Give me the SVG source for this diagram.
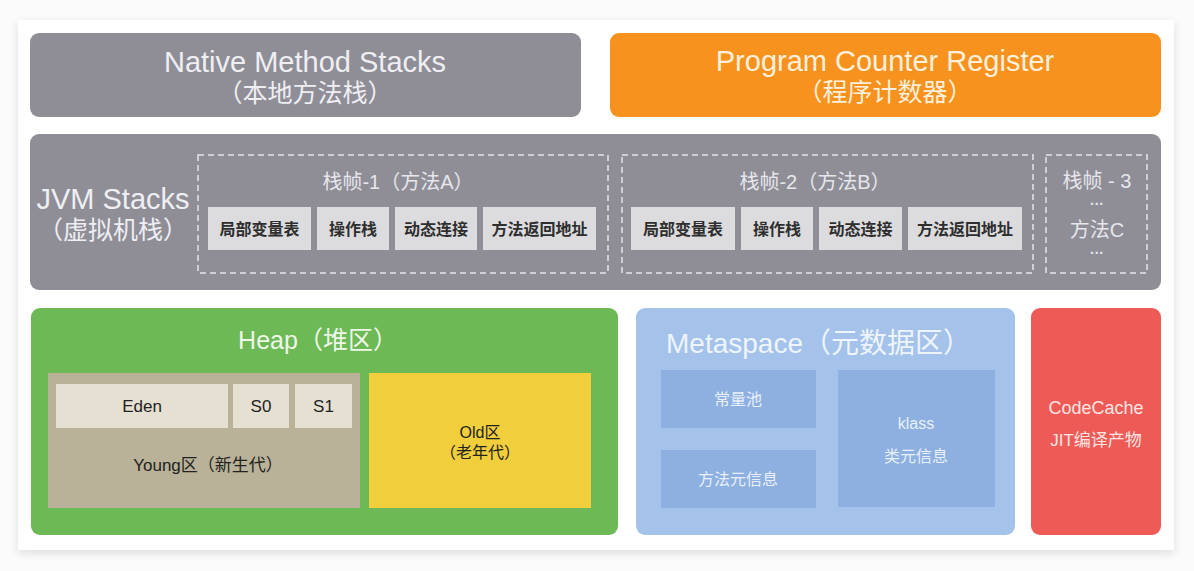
<svg xmlns="http://www.w3.org/2000/svg" width="1194" height="571" viewBox="0 0 1194 571">
<defs>
<filter id="sh" x="-5%" y="-5%" width="110%" height="115%">
<feDropShadow dx="0" dy="3" stdDeviation="5" flood-color="#000" flood-opacity="0.12"/>
</filter>
</defs>
<style>
text{font-family:"Liberation Sans","Noto Sans CJK SC",sans-serif;text-anchor:middle;dominant-baseline:central}
.gray{fill:#8f8e97}
.lt{fill:#eeeef3}
.big{font-size:29px}
.cn{font-size:25px}
.cell{fill:#dcdcde}
.ct{font-size:16px;font-weight:bold;fill:#2e2e2e}
.dash{fill:none;stroke:#e4e4ea;stroke-width:1.5;stroke-dasharray:6 4}
.ft{font-size:20px;fill:#e6e6ec}
.yc{fill:#e5e0d2}
.dk{font-size:17px;fill:#222}
.mb{fill:#8db0e1}
.mt{font-size:16px;fill:#e8eff9}
</style>
<rect width="1194" height="571" fill="#fbfbfb"/>
<rect x="18" y="20" width="1156" height="530" fill="#ffffff" filter="url(#sh)"/>

<g id="native">
<rect x="30" y="33" width="551" height="84" rx="9" class="gray"/>
<text x="305" y="62" class="big lt">Native Method Stacks</text>
<text x="305" y="93" class="cn lt">（本地方法栈）</text>
</g>

<g id="pc">
<rect x="610" y="33" width="551" height="84" rx="9" fill="#f7921f"/>
<text x="885" y="61" class="big" fill="#fdf0dc">Program Counter Register</text>
<text x="885" y="92" class="cn" fill="#fdf0dc">（程序计数器）</text>
</g>

<g id="jvm">
<rect x="30" y="134" width="1131" height="156" rx="9" class="gray"/>
<text x="113" y="199" class="big lt">JVM Stacks</text>
<text x="113" y="230" class="cn lt">（虚拟机栈）</text>
</g>

<g id="frame1">
<rect x="198" y="155" width="410" height="118" class="dash"/>
<text x="398" y="182" class="ft">栈帧-1（方法A）</text>
<rect x="208" y="207" width="103" height="43" class="cell"/>
<text x="259.5" y="229" class="ct">局部变量表</text>
<rect x="317" y="207" width="72" height="43" class="cell"/>
<text x="353" y="229" class="ct">操作栈</text>
<rect x="395" y="207" width="82" height="43" class="cell"/>
<text x="436" y="229" class="ct">动态连接</text>
<rect x="483" y="207" width="113" height="43" class="cell"/>
<text x="539.5" y="229" class="ct">方法返回地址</text>
</g>

<g id="frame2">
<rect x="622" y="155" width="411" height="118" class="dash"/>
<text x="815" y="182" class="ft">栈帧-2（方法B）</text>
<rect x="631" y="207" width="104" height="43" class="cell"/>
<text x="683" y="229" class="ct">局部变量表</text>
<rect x="741" y="207" width="72" height="43" class="cell"/>
<text x="777" y="229" class="ct">操作栈</text>
<rect x="819" y="207" width="83" height="43" class="cell"/>
<text x="860.5" y="229" class="ct">动态连接</text>
<rect x="908" y="207" width="114" height="43" class="cell"/>
<text x="965" y="229" class="ct">方法返回地址</text>
</g>

<g id="frame3">
<rect x="1046" y="155" width="101" height="118" class="dash"/>
<text x="1097" y="181" class="ft">栈帧 - 3</text>
<text x="1097" y="204" font-size="14" font-weight="bold" fill="#e6e6ec">···</text>
<text x="1097" y="230" class="ft">方法C</text>
<text x="1097" y="253" font-size="14" font-weight="bold" fill="#e6e6ec">···</text>
</g>

<g id="heap">
<rect x="31" y="308" width="587" height="227" rx="9" fill="#6cb956"/>
<text x="318" y="340" class="cn" fill="#eef7e8">Heap（堆区）</text>
</g>

<g id="young">
<rect x="48" y="373" width="312" height="135" fill="#b9b298"/>
<rect x="56" y="384" width="172" height="44" class="yc"/>
<text x="142" y="406" class="dk">Eden</text>
<rect x="233" y="384" width="56" height="44" class="yc"/>
<text x="261" y="406" class="dk">S0</text>
<rect x="295" y="384" width="57" height="44" class="yc"/>
<text x="323.5" y="406" class="dk">S1</text>
<text x="208" y="465" class="dk">Young区（新生代）</text>
</g>

<g id="old">
<rect x="369" y="373" width="222" height="135" fill="#f1cf3c"/>
<text x="480" y="432" font-size="16" fill="#222">Old区</text>
<text x="480" y="452" font-size="16" fill="#222">（老年代）</text>
</g>

<g id="metaspace">
<rect x="636" y="308" width="379" height="227" rx="9" fill="#a5c3ea"/>
<text x="666" y="343" class="big" fill="#eef4fc" style="text-anchor:start;font-size:28px">Metaspace（元数据区）</text>
<rect x="661" y="370" width="155" height="58" class="mb"/>
<text x="738" y="399" class="mt">常量池</text>
<rect x="661" y="450" width="155" height="58" class="mb"/>
<text x="738" y="479" class="mt">方法元信息</text>
<rect x="838" y="370" width="157" height="137" class="mb"/>
<text x="916" y="423" class="mt">klass</text>
<text x="916" y="456" class="mt">类元信息</text>
</g>

<g id="codecache">
<rect x="1031" y="308" width="130" height="227" rx="9" fill="#ee5b56"/>
<text x="1096" y="408" font-size="18" fill="#fbe6e3">CodeCache</text>
<text x="1096" y="440" font-size="17" fill="#fbe6e3">JIT编译产物</text>
</g>

<g id="connectors"></g>
</svg>
